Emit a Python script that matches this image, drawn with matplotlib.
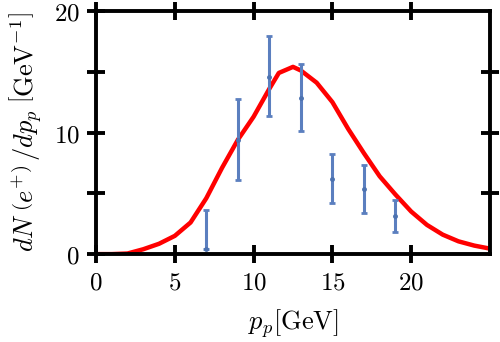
import matplotlib
matplotlib.use("Agg")
import matplotlib.pyplot as plt

plt.rcParams['mathtext.fontset'] = 'cm'

# model curve
curve_x = [0, 1, 2, 3, 4, 5, 6, 7, 8, 9, 10, 11, 11.6, 12.5, 13, 14, 15, 16, 17,
           18, 19, 20, 21, 22, 23, 24, 25]
curve_y = [0, 0, 0.05, 0.4, 0.85, 1.5, 2.6, 4.6, 7.1, 9.4, 11.3, 13.6, 14.9, 15.4,
           15.1, 14.1, 12.5, 10.3, 8.3, 6.4, 4.9, 3.5, 2.4, 1.6, 1.05, 0.7, 0.45]

# measured points
pts_x = [7, 9, 11, 13, 15, 17, 19]
pts_y = [0.4, 9.4, 14.6, 12.8, 6.2, 5.35, 3.13]
err_lo = [0.0, 3.3, 3.25, 2.7, 2.0, 1.95, 1.33]
err_hi = [3.2, 3.35, 3.3, 2.8, 2.0, 1.95, 1.31]

xticks = [0, 5, 10, 15, 20]
yticks = [0, 5, 10, 15, 20]
ytick_labels = ['$0$', '', '$10$', '', '$20$']

fig = plt.figure(figsize=(5, 3.42), dpi=100)
ax = fig.add_axes([0.192, 0.257, 0.788, 0.711])

ax.plot(curve_x, curve_y, color='red', lw=3.2, zorder=2)
ax.errorbar(pts_x, pts_y, yerr=[err_lo, err_hi], fmt='o', ms=2.5,
            color='#4c72b0', ecolor='#5b7fbf', elinewidth=2.2, capsize=2,
            capthick=2, zorder=3)

ax.set_xlim(0, 25)
ax.set_ylim(0, 20)
ax.set_xticks(xticks)
ax.set_xticklabels(['$%d$' % t for t in xticks])
ax.set_yticks(yticks)
ax.set_yticklabels(ytick_labels)

for s in ax.spines.values():
    s.set_linewidth(2.8)

ax.tick_params(direction='inout', length=13.5, width=2.8, labelsize=18,
               top=True, right=True, pad=5)
# no right-side ticks at the corners
yt = ax.yaxis.get_major_ticks()
yt[0].tick2line.set_visible(False)
yt[-1].tick2line.set_visible(False)

ax.set_xlabel(r'$p_p[\mathrm{GeV}]$', fontsize=19, labelpad=9)
ax.set_ylabel(r'$dN\;\left(e^{+}\right)\,/dp_p\;\left[\mathrm{GeV}^{-1}\right]$',
              fontsize=19, labelpad=7)

fig.savefig('out.png', dpi=100)
